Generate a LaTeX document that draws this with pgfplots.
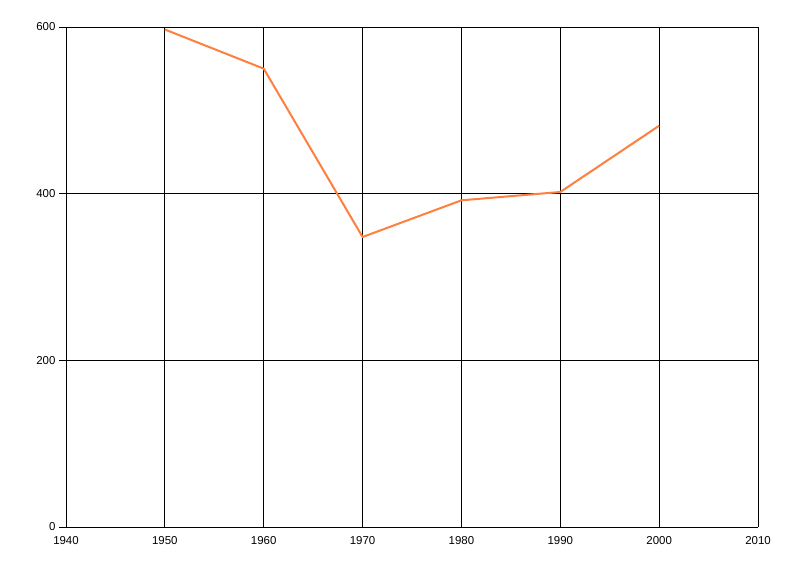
\documentclass[border=0pt]{standalone}
\usepackage{pgfplots}
\pgfplotsset{compat=1.18}
\usepackage{fontspec}
\setmainfont{Liberation Sans}
\definecolor{lineor}{HTML}{FF7F3F}
\begin{document}
\begin{tikzpicture}[x=1bp,y=1bp]
\useasboundingbox (0,0) rectangle (800,576);
\begin{axis}[
  at={(66bp,49bp)}, anchor=south west,
  scale only axis, width=692bp, height=500bp,
  xmin=1940, xmax=2010, ymin=0, ymax=600,
  xtick={1940,1950,...,2010}, ytick={0,200,400,600},
  xticklabel style={/pgf/number format/1000 sep={}},
  /pgf/number format/assume math mode=true,
  tick label style={font=\fontsize{11.5}{13}\selectfont},
  grid=major, major grid style={black, line width=0.8bp},
  axis line style={black, line width=0.8bp},
  axis lines*=left,
  tick align=outside, major tick length=7bp,
  ytick style={black, line width=0.8bp},
  xtick style={draw=none},
  xticklabel shift=-1bp, yticklabel shift=0bp,
]
\addplot[lineor, line width=2bp] coordinates {
(1950,597) (1960,550) (1970,348) (1980,392) (1990,402) (2000,481.5)
};
\end{axis}
\end{tikzpicture}
\end{document}
